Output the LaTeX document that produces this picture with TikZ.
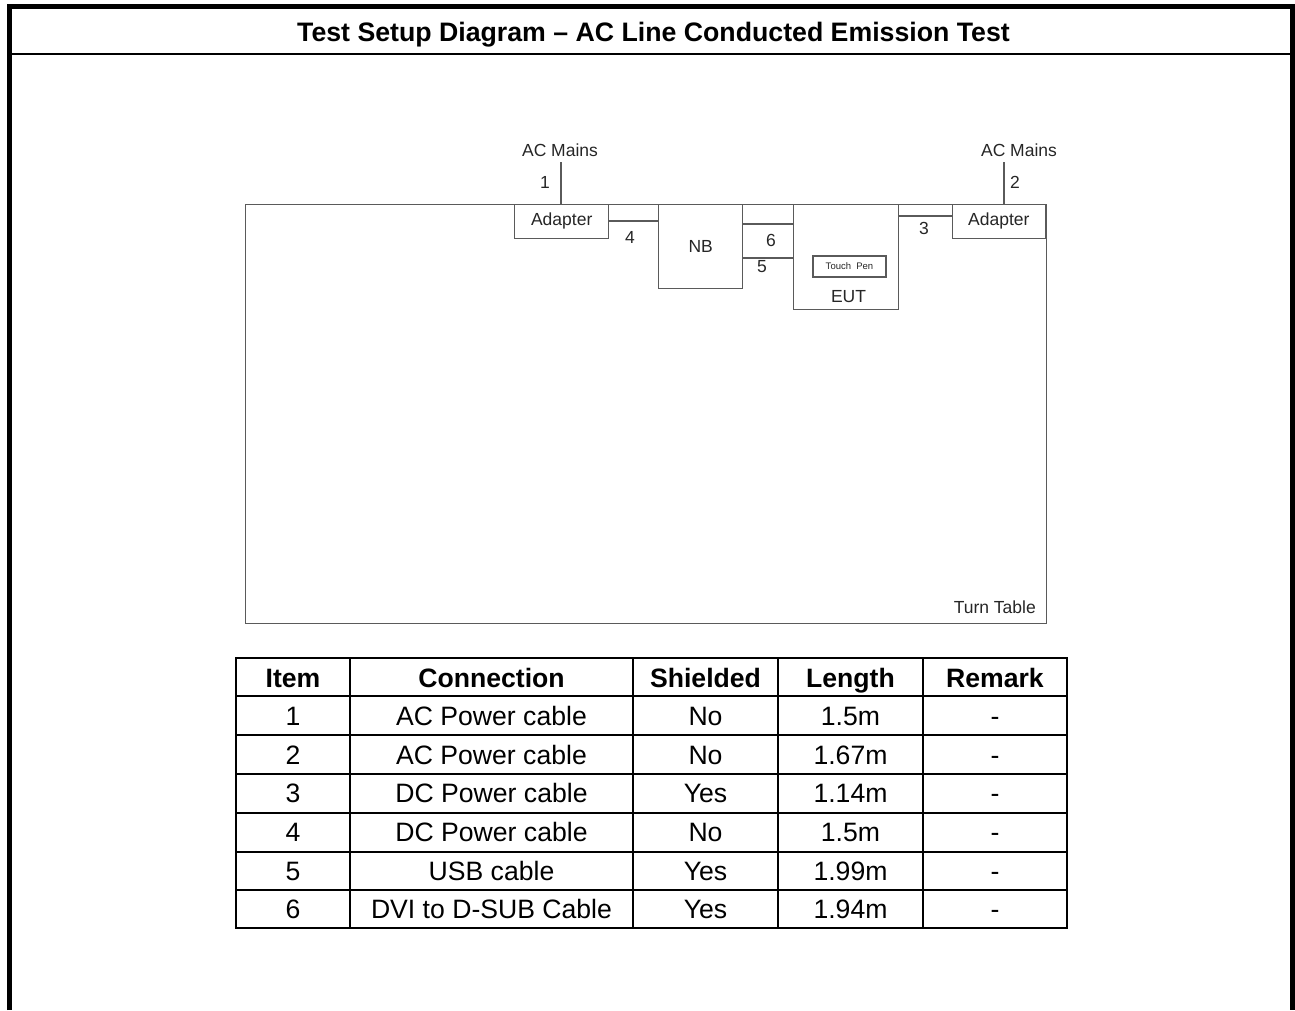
\documentclass[tikz,border=0pt]{standalone}
\usepackage{fontspec}
\setmainfont{Liberation Sans}
\definecolor{dline}{HTML}{5A5A5A}
\definecolor{dtext}{HTML}{262626}
\tikzset{
  dbox/.style={draw=dline, line width=1.4pt, fill=white, rectangle, inner sep=0pt, text=dtext, font=\fontsize{17.5}{20}\selectfont},
  dlbl/.style={text=dtext, inner sep=0pt, font=\fontsize{17.5}{20}\selectfont},
  cable/.style={draw=dline, line width=1.4pt},
  cell/.style={inner sep=0pt, anchor=base, font=\fontsize{26.6}{30}\selectfont},
  hcell/.style={cell, font=\fontsize{26.6}{30}\selectfont\bfseries},
  tline/.style={line width=2pt, black},
  frame/.style={line width=5pt, black},
}
\begin{document}
\begin{tikzpicture}[x=1pt, y=-1pt]
\useasboundingbox (0,0) rectangle (1295,1010);
% outer frame
\draw[frame] (9.5,1010) -- (9.5,6.5) -- (1292.5,6.5) -- (1292.5,1010);
\draw[line width=2.8pt] (12,54) -- (1290,54);
\node[font=\fontsize{26.7}{30}\selectfont\bfseries, inner sep=0pt, anchor=base] (title) at (653.5,41) {Test Setup Diagram -- AC Line Conducted Emission Test};

% turn table
\node[draw=dline, line width=1.4pt, rectangle, minimum width=801.5pt, minimum height=419.5pt, anchor=north west, inner sep=0pt] (tt) at (244.5,203.5) {};
\node[dlbl, anchor=south east] (ttl) at (1036,614) {Turn Table};

% boxes
\node[dbox, minimum width=94pt, minimum height=34pt, anchor=north west] (adL) at (514,203.5) {Adapter};
\node[dbox, minimum width=84pt, minimum height=84pt, anchor=north west] (nb) at (658,203.5) {NB};
\node[dbox, minimum width=105pt, minimum height=105pt, anchor=north west] (eut) at (793,203.5) {};
\node[dlbl] (eutl) at (848.5,297) {EUT};
\node[draw=dline, line width=1.2pt, rectangle, minimum width=73pt, minimum height=21pt, inner sep=0pt, text=dtext, font=\fontsize{9.5}{11}\selectfont] (pen) at (849.5,266.5) {Touch\ \ Pen};
\node[dbox, minimum width=93pt, minimum height=34pt, anchor=north east] (adR) at (1046,203.5) {Adapter};

% AC mains
\node[dlbl] (acL) at (560,150) {AC Mains};
\node[dlbl] (acR) at (1019,150) {AC Mains};
\coordinate (topL) at (561,162);
\coordinate (topR) at (1004,162);
\draw[cable] (topL) -- (topL |- adL.north);
\draw[cable] (topR) -- (topR |- adR.north);

% cables
\coordinate (y4) at (0,221);
\coordinate (y6) at (0,224);
\coordinate (y5) at (0,258);
\coordinate (y3) at (0,216);
\draw[cable] (adL.east |- y4) -- (nb.west |- y4);
\draw[cable] (nb.east |- y6) -- (eut.west |- y6);
\draw[cable] (nb.east |- y5) -- (eut.west |- y5);
\draw[cable] (eut.east |- y3) -- (adR.west |- y3);

% cable numbers
\node[dlbl] (n1) at (545,182) {1};
\node[dlbl] (n2) at (1015,182) {2};
\node[dlbl] (n3) at (924,228) {3};
\node[dlbl] (n4) at (630,237) {4};
\node[dlbl] (n5) at (762,267) {5};
\node[dlbl] (n6) at (771,240) {6};

% table grid
\draw[tline] (236,658) rectangle (1067,928);
\foreach \yy in {696,735,774,813,852,890} \draw[tline] (236,\yy) -- (1067,\yy);
\foreach \xx in {350,633,778,923} \draw[tline] (\xx,658) -- (\xx,928);

% header
\node[hcell] (h1) at (293,687.5) {Item};
\node[hcell] (h2) at (491.5,687.5) {Connection};
\node[hcell] (h3) at (705.5,687.5) {Shielded};
\node[hcell] (h4) at (850.5,687.5) {Length};
\node[hcell] (h5) at (995,687.5) {Remark};

% rows
\foreach \i/\c/\s/\l [count=\r] in {1/AC Power cable/No/1.5m, 2/AC Power cable/No/1.67m, 3/DC Power cable/Yes/1.14m, 4/DC Power cable/No/1.5m, 5/USB cable/Yes/1.99m, 6/DVI to D-SUB Cable/Yes/1.94m}{
  \pgfmathsetmacro{\yc}{696+(\r-0.5)*38.67+10}
  \node[cell] (r\r c1) at (293,\yc) {\i};
  \node[cell] (r\r c2) at (491.5,\yc) {\c};
  \node[cell] (r\r c3) at (705.5,\yc) {\s};
  \node[cell] (r\r c4) at (850.5,\yc) {\l};
  \node[cell] (r\r c5) at (995,\yc) {-};
}
\end{tikzpicture}
\end{document}
